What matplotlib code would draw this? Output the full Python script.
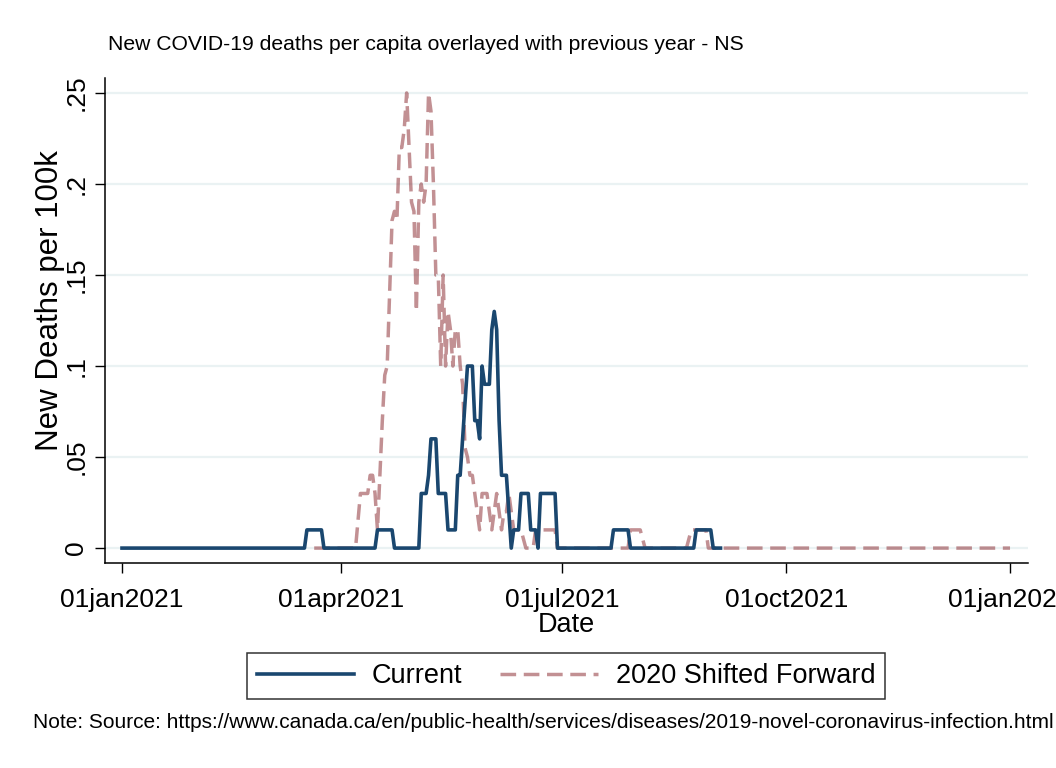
import pandas as pd
import matplotlib
matplotlib.use('Agg')
import matplotlib.pyplot as plt
import matplotlib.dates as mdates

plt.rcParams['font.family'] = ['Liberation Sans', 'DejaVu Sans']

# Current year: 7-day deaths per 100k (vertices of the daily line)
cur_dates = ['2021-01-01', '2021-03-17', '2021-03-18', '2021-03-24', '2021-03-25',
             '2021-04-15', '2021-04-16', '2021-04-22', '2021-04-23', '2021-05-03',
             '2021-05-04', '2021-05-06', '2021-05-07', '2021-05-08', '2021-05-10',
             '2021-05-11', '2021-05-14', '2021-05-15', '2021-05-18', '2021-05-19',
             '2021-05-20', '2021-05-21', '2021-05-23', '2021-05-25', '2021-05-26',
             '2021-05-27', '2021-05-28', '2021-05-29', '2021-05-30', '2021-06-01',
             '2021-06-02', '2021-06-03', '2021-06-04', '2021-06-05', '2021-06-06',
             '2021-06-08', '2021-06-10', '2021-06-11', '2021-06-13', '2021-06-14',
             '2021-06-17', '2021-06-18', '2021-06-20', '2021-06-21', '2021-06-22',
             '2021-06-28', '2021-06-29', '2021-07-21', '2021-07-22', '2021-07-28',
             '2021-07-29', '2021-08-24', '2021-08-25', '2021-08-31', '2021-09-01',
             '2021-09-04']
cur_vals = [0, 0, 0.01, 0.01, 0,
            0, 0.01, 0.01, 0, 0,
            0.03, 0.03, 0.04, 0.06, 0.06,
            0.03, 0.03, 0.01, 0.01, 0.04,
            0.04, 0.06, 0.10, 0.10, 0.07,
            0.07, 0.06, 0.10, 0.09, 0.09,
            0.12, 0.13, 0.12, 0.07, 0.04,
            0.04, 0, 0.01, 0.01, 0.03,
            0.03, 0.01, 0.01, 0, 0.03,
            0.03, 0, 0, 0.01, 0.01,
            0, 0, 0.01, 0.01, 0,
            0]

# 2020 values shifted forward one year
prev_dates = ['2021-03-21', '2021-04-07', '2021-04-09', '2021-04-12', '2021-04-13',
              '2021-04-14', '2021-04-15', '2021-04-16', '2021-04-17', '2021-04-18',
              '2021-04-19', '2021-04-20', '2021-04-21', '2021-04-22', '2021-04-23',
              '2021-04-24', '2021-04-25', '2021-04-26', '2021-04-27', '2021-04-28',
              '2021-04-29', '2021-04-30', '2021-05-01', '2021-05-02', '2021-05-03',
              '2021-05-04', '2021-05-05', '2021-05-06', '2021-05-07', '2021-05-08',
              '2021-05-09', '2021-05-10', '2021-05-11', '2021-05-12', '2021-05-13',
              '2021-05-14', '2021-05-15', '2021-05-16', '2021-05-17', '2021-05-18',
              '2021-05-19', '2021-05-20', '2021-05-21', '2021-05-22', '2021-05-23',
              '2021-05-24', '2021-05-25', '2021-05-26', '2021-05-27', '2021-05-28',
              '2021-05-29', '2021-05-30', '2021-05-31', '2021-06-01', '2021-06-02',
              '2021-06-03', '2021-06-04', '2021-06-05', '2021-06-06', '2021-06-07',
              '2021-06-08', '2021-06-09', '2021-06-10', '2021-06-11', '2021-06-14',
              '2021-06-16', '2021-06-19', '2021-06-20', '2021-06-28', '2021-06-29',
              '2021-07-28', '2021-07-29', '2021-08-02', '2021-08-04', '2021-08-21',
              '2021-08-23', '2021-08-29', '2021-08-30', '2022-01-01']
prev_vals = [0, 0, 0.03, 0.03, 0.04,
             0.04, 0.03, 0.01, 0.04, 0.07,
             0.095, 0.10, 0.14, 0.18, 0.185,
             0.18, 0.22, 0.22, 0.23, 0.25,
             0.22, 0.19, 0.185, 0.13, 0.19,
             0.20, 0.19, 0.20, 0.25, 0.24,
             0.20, 0.15, 0.15, 0.10, 0.15,
             0.10, 0.13, 0.12, 0.10, 0.12,
             0.12, 0.10, 0.09, 0.055, 0.05,
             0.04, 0.04, 0.03, 0.02, 0.01,
             0.03, 0.03, 0.03, 0.02, 0.01,
             0.02, 0.03, 0.02, 0.01, 0.02,
             0.02, 0.03, 0.02, 0.01, 0.01,
             0, 0, 0.01, 0.01, 0,
             0, 0.01, 0.01, 0, 0,
             0.01, 0.01, 0, 0]

xtick_dates = ['2021-01-01', '2021-04-01', '2021-07-01', '2021-10-01', '2022-01-01']
xtick_labels = ['01jan2021', '01apr2021', '01jul2021', '01oct2021', '01jan2022']
ytick_vals = [0, 0.05, 0.1, 0.15, 0.2, 0.25]
ytick_labels = ['0', '.05', '.1', '.15', '.2', '.25']

cur_x = pd.to_datetime(cur_dates)
prev_x = pd.to_datetime(prev_dates)

fig = plt.figure(figsize=(10.56, 7.68), dpi=100)
ax = fig.add_axes([0.0994, 0.2669, 0.8741, 0.6315])

ax.plot(prev_x, prev_vals, color='#90353b', alpha=0.55, linewidth=2.5,
        dashes=(4.5, 2.2), label='2020 Shifted Forward', zorder=2)
ax.plot(cur_x, cur_vals, color='#1a476f', linewidth=2.6,
        label='Current', zorder=3)

x0 = mdates.date2num(pd.Timestamp('2021-01-01'))
ax.set_xlim(x0 - 7.0, x0 + 372.4)
ax.set_ylim(-0.0082, 0.2582)

ax.set_xticks(pd.to_datetime(xtick_dates))
ax.set_xticklabels(xtick_labels, fontsize=19)
ax.set_yticks(ytick_vals)
ax.set_yticklabels(ytick_labels, fontsize=19, rotation=90, va='center')

ax.tick_params(axis='both', direction='out', length=7, width=1, color='black')
ax.tick_params(axis='x', pad=11)
ax.tick_params(axis='y', pad=5)

ax.yaxis.grid(True, color='#eaf2f3', linewidth=1.6)
ax.set_axisbelow(True)
for s in ['top', 'right']:
    ax.spines[s].set_visible(False)
for s in ['left', 'bottom']:
    ax.spines[s].set_linewidth(1.1)

ax.set_xlabel('Date', fontsize=19.5, labelpad=0)
ax.set_ylabel('New Deaths per 100k', fontsize=22.5, labelpad=-0.5)
ax.yaxis.label.set_y(0.542)

fig.text(108 / 1056, 1 - 45 / 768,
         'New COVID-19 deaths per capita overlayed with previous year - NS',
         fontsize=15.2, ha='left', va='center')

handles, labels = ax.get_legend_handles_labels()
leg = fig.legend(handles[::-1], labels[::-1], loc='center',
                 bbox_to_anchor=(566 / 1056, 1 - 676 / 768), ncol=2,
                 fontsize=19.5, frameon=True, fancybox=False, handlelength=3.6,
                 handletextpad=0.65, columnspacing=1.4, borderpad=0.38)
leg.get_frame().set_edgecolor('black')
leg.get_frame().set_linewidth(1.1)

fig.text(33 / 1056, 1 - 722 / 768,
         'Note: Source: https://www.canada.ca/en/public-health/services/diseases/'
         '2019-novel-coronavirus-infection.html',
         fontsize=15, ha='left', va='center')

fig.savefig('out.png', dpi=100, facecolor='white')
